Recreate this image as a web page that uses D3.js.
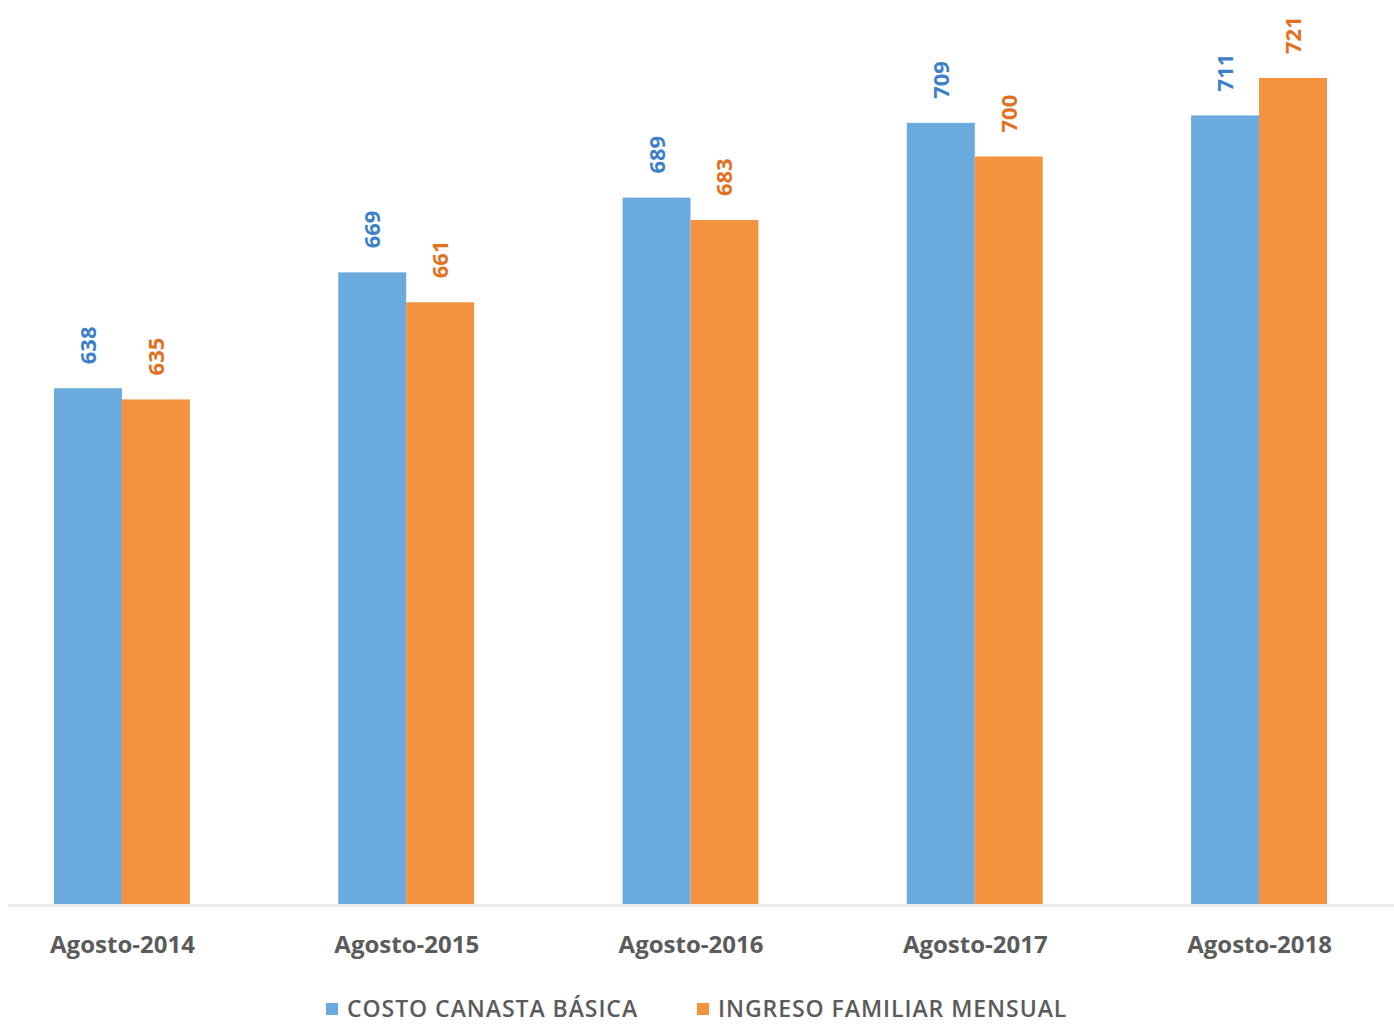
<!DOCTYPE html>
<html><head><meta charset="utf-8">
<script src="https://cdn.jsdelivr.net/npm/d3@7"></script>
<style>body{margin:0;background:#fff}svg{display:block}</style>
</head><body>
<script>
const categories = ["Agosto-2014","Agosto-2015","Agosto-2016","Agosto-2017","Agosto-2018"];
const seriesNames = ["COSTO CANASTA BÁSICA","INGRESO FAMILIAR MENSUAL"];
const costoCanasta = [638, 669, 689, 709, 711];
const ingresoFamiliar = [635, 661, 683, 700, 721];

const W = 1394, H = 1024;
const barColors = ["#6aaadd", "#f39340"];
const labelColors = ["#3b80c8", "#e2701f"];
const font = "'Open Sans', sans-serif";

const svg = d3.select("body").append("svg").attr("width", W).attr("height", H);

const x0 = d3.scaleBand().domain(categories).range([54, 1327]).paddingInner(0.522).paddingOuter(0);
const x1 = d3.scaleBand().domain(seriesNames).range([0, x0.bandwidth()]);
const y = d3.scaleLinear().domain([500, 740]).range([904, 7]);

const data = categories.map((c, i) => ({cat: c, vals: [costoCanasta[i], ingresoFamiliar[i]]}));

const g = svg.append("g");
const groups = g.selectAll("g.grp").data(data).join("g")
  .attr("transform", d => `translate(${x0(d.cat)},0)`);

groups.selectAll("rect").data(d => d.vals.map((v, k) => ({v, k}))).join("rect")
  .attr("x", d => x1(seriesNames[d.k]))
  .attr("width", x1.bandwidth())
  .attr("y", d => y(d.v))
  .attr("height", d => y(500) - y(d.v))
  .attr("fill", d => barColors[d.k]);

groups.selectAll("text.val").data(d => d.vals.map((v, k) => ({v, k}))).join("text")
  .attr("class", "val")
  .attr("transform", d => `translate(${x1(seriesNames[d.k]) + x1.bandwidth()/2 + 8},${y(d.v) - 24}) rotate(-90)`)
  .attr("font-family", font).attr("font-weight", 700).attr("font-size", 22)
  .attr("fill", d => labelColors[d.k])
  .text(d => d.v);

// x axis
const xAxis = d3.axisBottom(d3.scalePoint().domain(categories).range([x0(categories[0]) + x0.bandwidth()/2, x0(categories[4]) + x0.bandwidth()/2]))
  .tickSize(0).tickPadding(0);
const ax = svg.append("g").attr("transform", "translate(0,905)").call(xAxis);
ax.select(".domain").remove();
svg.append("line").attr("x1", 8).attr("x2", 1394).attr("y1", 905.5).attr("y2", 905.5)
  .attr("stroke", "#ececec").attr("stroke-width", 3);
ax.selectAll("text").attr("dy", 0).attr("y", 48)
  .attr("font-family", font).attr("font-weight", 700).attr("font-size", 24)
  .attr("fill", "#5b5b5b");

// legend
const legendX = [326, 697];
const lg = svg.append("g");
seriesNames.forEach((s, k) => {
  lg.append("rect").attr("x", legendX[k]).attr("y", 1003).attr("width", 12).attr("height", 12).attr("fill", barColors[k]);
  lg.append("text").attr("x", legendX[k] + 21).attr("y", 1017)
    .attr("font-family", font).attr("font-weight", 600).attr("font-size", 23)
    .attr("letter-spacing", 0.95)
    .attr("fill", "#5b5b5b").text(s);
});
</script>
</body></html>
